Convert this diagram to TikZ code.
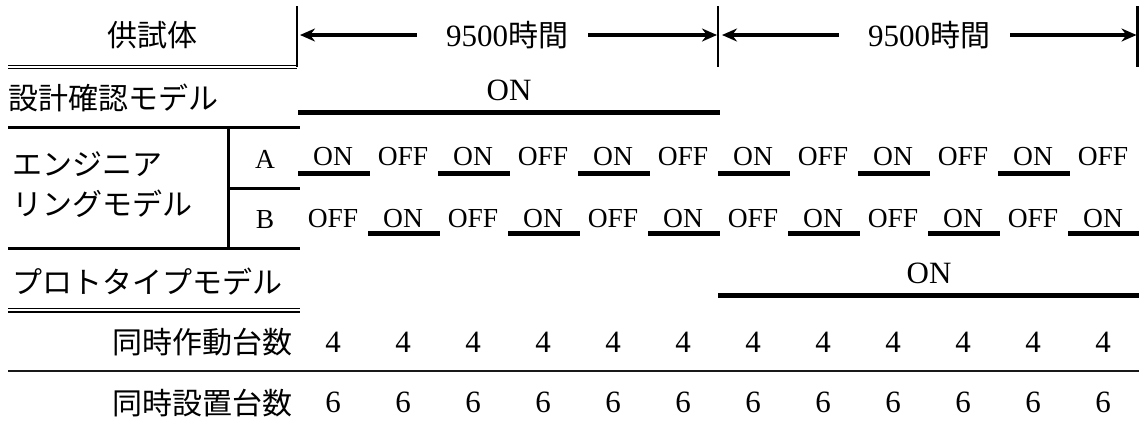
\documentclass[tikz,border=0pt]{standalone}
\usepackage{fontspec}
\setmainfont{Liberation Serif}
\newfontfamily\jp{Noto Sans CJK JP}
\usetikzlibrary{arrows.meta}
\begin{document}
\begin{tikzpicture}[x=1pt,y=-1pt,
  jpt/.style={font=\jp\fontsize{30}{32}\selectfont, inner sep=0pt},
  lat/.style={font=\fontsize{27.5}{29}\selectfont, inner sep=0pt},
  bigon/.style={font=\fontsize{31}{33}\selectfont, inner sep=0pt},
  num/.style={font=\fontsize{31}{33}\selectfont, inner sep=0pt},
  bar/.style={line width=5pt},
  rulel/.style={line width=3pt},
  thinrule/.style={line width=1.2pt},
  vline/.style={line width=2.6pt},
  arr/.style={line width=3.5pt,-{Stealth[length=15pt,width=13pt]}}]
\useasboundingbox (0,0) rectangle (1139,429);
% header
\coordinate (v0) at (297,35);
\coordinate (v1) at (718,35);
\coordinate (v2) at (1137.5,35);
\draw[vline] (297,6) -- (297,67);
\draw[vline] (718,6) -- (718,67);
\draw[vline] (1137.5,6) -- (1137.5,67);
\draw[thinrule] (8,65.3) -- (297,65.3);
\draw[thinrule] (8,68.8) -- (297,68.8);
\node[jpt] (h) at (152,35) {供試体};
\node[num] (t1) at (507,35) {9500{\jp\fontsize{30}{32}\selectfont 時間}};
\node[num] (t2) at (929,35) {9500{\jp\fontsize{30}{32}\selectfont 時間}};
\draw[arr] ([xshift=-29pt]t1.west) -- ([xshift=3pt]v0);
\draw[arr] ([xshift=20pt]t1.east) -- ([xshift=-1pt]v1);
\draw[arr] ([xshift=-29pt]t2.west) -- ([xshift=4pt]v1);
\draw[arr] ([xshift=20pt]t2.east) -- ([xshift=-1pt]v2);
% design model
\node[jpt,anchor=west] (dm) at (8,98) {設計確認モデル};
\node[bigon,anchor=base] (on1) at (509,100) {ON};
\draw[bar] (298,112.5) -- (720,112.5);
\draw[rulel] (8,127) -- (300,127);
% engineering model
\draw[rulel] (228,127) -- (228,248);
\draw[rulel] (228,188) -- (300,188);
\draw[rulel] (8,248) -- (300,248);
\node[jpt,anchor=west] (em1) at (12,164) {エンジニア};
\node[jpt,anchor=west] (em2) at (12,204) {リングモデル};
\node[lat,anchor=base] (la) at (265,168) {A};
\node[lat,anchor=base] (lb) at (265,228) {B};
\foreach \i in {0,...,11}{
  \pgfmathsetmacro{\xl}{298+70*\i}
  \pgfmathsetmacro{\xc}{333+70*\i}
  \ifodd\i
    \node[lat,anchor=base] (a\i) at (\xc,165) {OFF};
    \node[lat,anchor=base] (b\i) at (\xc,227) {ON};
    \draw[bar] (\xl,233) -- ++(72,0);
  \else
    \node[lat,anchor=base] (a\i) at (\xc,165) {ON};
    \node[lat,anchor=base] (b\i) at (\xc,227) {OFF};
    \draw[bar] (\xl,173) -- ++(72,0);
  \fi
}
% prototype
\node[jpt,anchor=west] (pm) at (12,282) {プロトタイプモデル};
\node[bigon,anchor=base] (on2) at (929,283) {ON};
\draw[bar] (718,295) -- (1139,295);
\draw[thinrule] (8,308.5) -- (300,308.5);
\draw[thinrule] (8,312) -- (300,312);
% counts
\node[jpt,anchor=east] (c1) at (293,342) {同時作動台数};
\node[jpt,anchor=east] (c2) at (293,403) {同時設置台数};
\foreach \i in {0,...,11}{
  \pgfmathsetmacro{\xc}{333+70*\i}
  \node[num,anchor=base] (n\i) at (\xc,352) {4};
  \node[num,anchor=base] (m\i) at (\xc,412) {6};
}
\draw[line width=2pt, black!90] (8,371) -- (1139,371);
\end{tikzpicture}
\end{document}
